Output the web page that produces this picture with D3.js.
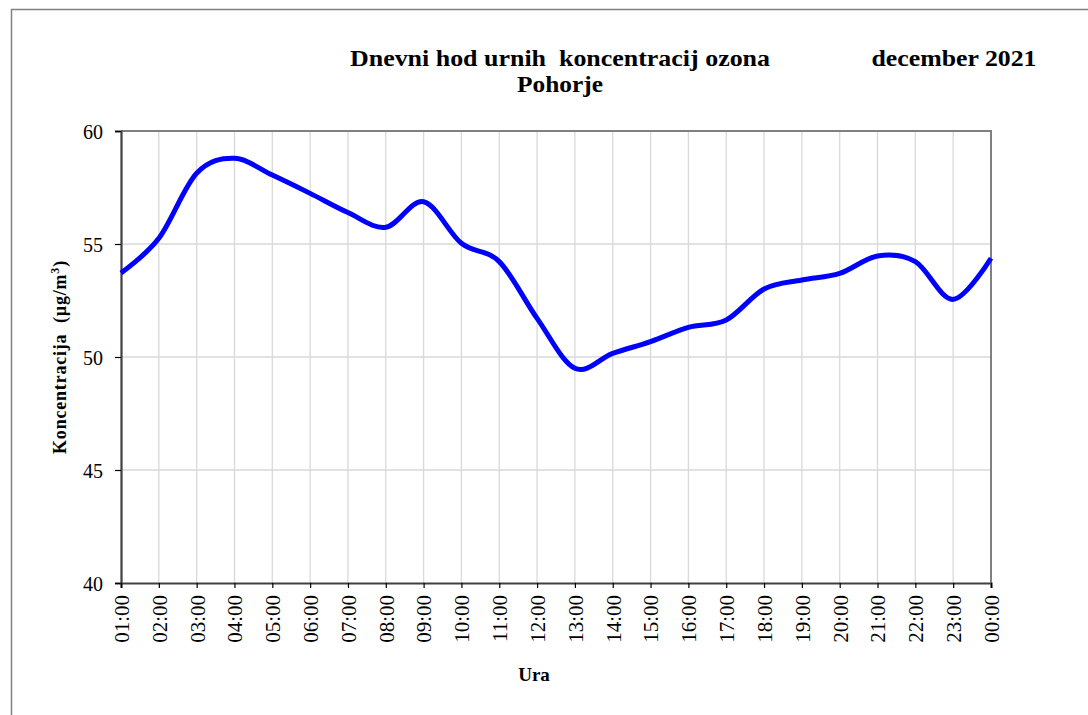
<!DOCTYPE html>
<html>
<head>
<meta charset="utf-8">
<script src="https://cdn.jsdelivr.net/npm/d3@7"></script>
<style>
  body { margin: 0; background: #fff; }
  svg { display: block; }
  svg text { font-family: "Liberation Serif", "Times New Roman", serif; }
</style>
</head>
<body>
<div id="chart"></div>
<script>
const hours = ['01:00','02:00','03:00','04:00','05:00','06:00','07:00','08:00','09:00','10:00','11:00','12:00',
               '13:00','14:00','15:00','16:00','17:00','18:00','19:00','20:00','21:00','22:00','23:00','00:00'];
const ozone = [53.72, 55.25, 58.13, 58.79, 58.05, 57.24, 56.39, 55.74, 56.87, 55.03, 54.22, 51.71,
               49.50, 50.16, 50.68, 51.31, 51.64, 53.01, 53.41, 53.70, 54.47, 54.22, 52.55, 54.37];
const yTicks = [40, 45, 50, 55, 60];

const width = 1088, height = 715;
const margin = { top: 131, right: 97, bottom: 132, left: 121 };
const serif = '"Liberation Serif", "Times New Roman", serif';

const svg = d3.select('#chart').append('svg')
    .attr('width', width)
    .attr('height', height);

// outer chart frame
svg.append('rect')
    .attr('x', 11.5).attr('y', 9.5)
    .attr('width', 1100).attr('height', 720)
    .attr('fill', 'none')
    .attr('stroke', '#808080')
    .attr('stroke-width', 1.5);

const x = d3.scalePoint()
    .domain(hours)
    .range([margin.left, width - margin.right]);

const y = d3.scaleLinear()
    .domain([40, 60])
    .range([height - margin.bottom, margin.top]);

const [x0, x1] = x.range();
const [yb, yt] = y.range();

// gridlines
svg.append('g').selectAll('line')
    .data(hours.slice(1))
    .enter().append('line')
    .attr('x1', d => x(d)).attr('x2', d => x(d))
    .attr('y1', yt).attr('y2', yb)
    .attr('stroke', '#d9d9d9').attr('stroke-width', 1.3);

svg.append('g').selectAll('line')
    .data(yTicks.slice(1, -1))
    .enter().append('line')
    .attr('x1', x0).attr('x2', x1)
    .attr('y1', d => y(d)).attr('y2', d => y(d))
    .attr('stroke', '#d9d9d9').attr('stroke-width', 1.3);

// top and right plot border
svg.append('path')
    .attr('d', `M${x0},${yt}H${x1}V${yb}`)
    .attr('fill', 'none')
    .attr('stroke', '#808080')
    .attr('stroke-width', 2);

// axes
const yAxis = svg.append('g')
    .attr('transform', `translate(${x0},0)`)
    .call(d3.axisLeft(y).tickValues(yTicks).tickSize(6).tickPadding(12).tickFormat(d3.format('d')));

const xAxis = svg.append('g')
    .attr('transform', `translate(0,${yb})`)
    .call(d3.axisBottom(x).tickSize(5).tickPadding(6));

[yAxis, xAxis].forEach(a => {
    a.attr('font-family', serif);
    a.select('.domain').attr('stroke', '#404040').attr('stroke-width', 2.2);
    a.selectAll('.tick line').attr('stroke', '#000').attr('stroke-width', 1.2);
    a.selectAll('text').attr('fill', '#000');
});
yAxis.selectAll('text').attr('font-size', 20).attr('dy', '0.35em');
xAxis.selectAll('text')
    .attr('font-size', 21)
    .attr('transform', 'rotate(-90)')
    .attr('text-anchor', 'end')
    .attr('x', -12)
    .attr('y', 0)
    .attr('dy', '0.35em');

// data line
const line = d3.line()
    .x((d, i) => x(hours[i]))
    .y(d => y(d))
    .curve(d3.curveCatmullRom.alpha(0));

svg.append('path')
    .datum(ozone)
    .attr('d', line)
    .attr('fill', 'none')
    .attr('stroke', '#0000ff')
    .attr('stroke-width', 5)
    .attr('stroke-linejoin', 'round');

// titles
function boldText(tx, ty, size, len, str) {
    return svg.append('text')
        .attr('x', tx).attr('y', ty)
        .attr('text-anchor', 'middle')
        .attr('font-family', serif)
        .attr('font-size', size).attr('font-weight', 'bold')
        .attr('textLength', len).attr('lengthAdjust', 'spacingAndGlyphs')
        .attr('xml:space', 'preserve')
        .text(str);
}
boldText(560, 66, 23, 420, 'Dnevni hod urnih  koncentracij ozona');
boldText(560, 92, 23, 86, 'Pohorje');
boldText(954, 66, 23, 165, 'december 2021');

// axis titles
const yTitle = svg.append('text')
    .attr('transform', `translate(66,${(yt + yb) / 2}) rotate(-90)`)
    .attr('text-anchor', 'middle')
    .attr('font-family', serif)
    .attr('font-size', 18).attr('font-weight', 'bold')
    .attr('letter-spacing', 0.8)
    .attr('xml:space', 'preserve');
yTitle.append('tspan').text('Koncentracija  (µg/m');
yTitle.append('tspan').attr('font-size', 12).attr('dy', -7).text('3');
yTitle.append('tspan').attr('dy', 7).text(')');

svg.append('text')
    .attr('x', 534).attr('y', 681)
    .attr('text-anchor', 'middle')
    .attr('font-family', serif)
    .attr('font-size', 19).attr('font-weight', 'bold')
    .text('Ura');
</script>
</body>
</html>
